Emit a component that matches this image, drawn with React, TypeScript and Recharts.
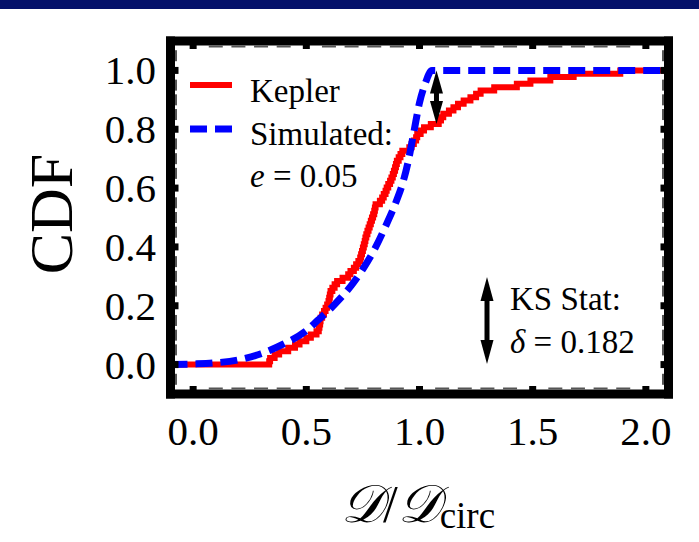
import React from "react";
import { LineChart, Line, XAxis, YAxis, ReferenceLine } from "recharts";

// sorted D/Dcirc ratios of the Kepler sample (88 systems)
const keplerRatios = [
  0.336, 0.34, 0.36, 0.38, 0.42, 0.45, 0.47, 0.5, 0.52, 0.545,
  0.555, 0.558, 0.561, 0.563, 0.57, 0.578, 0.585, 0.592, 0.598, 0.601,
  0.604, 0.607, 0.615, 0.625, 0.636, 0.66, 0.685, 0.695, 0.71, 0.72,
  0.73, 0.738, 0.742, 0.746, 0.75, 0.754, 0.758, 0.761, 0.765, 0.77,
  0.775, 0.78, 0.785, 0.79, 0.795, 0.8, 0.803, 0.806, 0.825, 0.835,
  0.842, 0.85, 0.855, 0.862, 0.87, 0.876, 0.882, 0.887, 0.892, 0.896,
  0.9, 0.908, 0.916, 0.924, 0.955, 0.965, 0.975, 0.985, 0.99, 1.005,
  1.02, 1.05, 1.085, 1.095, 1.105, 1.13, 1.15, 1.17, 1.195, 1.225,
  1.25, 1.27, 1.33, 1.43, 1.49, 1.578, 1.681, 1.887,
];

// simulated population, e = 0.05
const simRatio = [-0.1, 0, 0.1, 0.2, 0.3, 0.4, 0.5, 0.55, 0.6, 0.65, 0.7, 0.75, 0.8, 0.85, 0.9, 0.925, 0.95, 0.975, 1.0, 1.025, 1.055, 2.1];
const simCdf = [0, 0.002, 0.006, 0.016, 0.037, 0.07, 0.115, 0.15, 0.185, 0.225, 0.27, 0.325, 0.39, 0.47, 0.56, 0.615, 0.69, 0.79, 0.89, 0.955, 1, 1];

const xMajorTicks = [0, 0.5, 1, 1.5, 2];
const xMinorTicks = [0.1, 0.2, 0.3, 0.4, 0.6, 0.7, 0.8, 0.9, 1.1, 1.2, 1.3, 1.4, 1.6, 1.7, 1.8, 1.9];
const yMajorTicks = [0, 0.2, 0.4, 0.6, 0.8, 1];
const yMinorTicks = [-0.05, 0.05, 0.1, 0.15, 0.25, 0.3, 0.35, 0.45, 0.5, 0.55, 0.65, 0.7, 0.75, 0.85, 0.9, 0.95, 1.05];

const ksStat = 0.182;
const ksRatio = 1.075;

const FONT = "'Liberation Serif', 'Times New Roman', serif";
const n = keplerRatios.length;

const keplerCdf = [
  { x: -0.1, cdf: 0 },
  ...keplerRatios.map((v, i) => ({ x: v, cdf: (i + 1) / n })),
  { x: 2.1, cdf: 1 },
];
const simData = simRatio.map((x, i) => ({ x, cdf: simCdf[i] }));

const xTicks = [...xMajorTicks, ...xMinorTicks].sort((a, b) => a - b);
const yTicks = [...yMajorTicks, ...yMinorTicks].sort((a, b) => a - b);

const frameLine = { stroke: "#000", strokeWidth: 9, strokeLinecap: "square" as const };

// tick marks sit on the inner edge of the thick frame
function BottomTick({ x, y, payload }: any) {
  const major = xMajorTicks.includes(payload.value);
  return (
    <g>
      {major ? (
        <rect x={x - 3.5} y={y - 8} width={7} height={4} fill="#000" />
      ) : (
        <rect x={x - 7} y={y - 6.5} width={14} height={2} fill="#555" />
      )}
      {major && (
        <text x={x} y={y + 51} textAnchor="middle" fontSize={41} fontFamily={FONT} fill="#000">
          {payload.value.toFixed(1)}
        </text>
      )}
    </g>
  );
}

function TopTick({ x, y, payload }: any) {
  const major = xMajorTicks.includes(payload.value);
  return major ? (
    <rect x={x - 3.5} y={y + 4} width={7} height={4} fill="#000" />
  ) : (
    <rect x={x - 7} y={y + 4.5} width={14} height={2} fill="#555" />
  );
}

function LeftTick({ x, y, payload }: any) {
  const major = yMajorTicks.includes(payload.value);
  return (
    <g>
      {major ? (
        <rect x={x + 4} y={y - 3.5} width={4} height={7} fill="#000" />
      ) : (
        <rect x={x + 4.5} y={y - 5.5} width={2} height={11} fill="#555" />
      )}
      {major && (
        <text x={x - 14.5} y={y + 14} textAnchor="end" fontSize={41} fontFamily={FONT} fill="#000">
          {payload.value.toFixed(1)}
        </text>
      )}
    </g>
  );
}

function RightTick({ x, y, payload }: any) {
  const major = yMajorTicks.includes(payload.value);
  return major ? (
    <rect x={x - 8} y={y - 3.5} width={4} height={7} fill="#000" />
  ) : (
    <rect x={x - 6.5} y={y - 5.5} width={2} height={11} fill="#555" />
  );
}

function DoubleArrow({ cx, top, bottom, headH, headW }: { cx: number; top: number; bottom: number; headH: number; headW: number }) {
  return (
    <g fill="#000">
      <rect x={cx - 2.5} y={top + headH - 2} width={5} height={Math.max(0, bottom - top - 2 * headH + 4)} />
      <polygon points={`${cx},${top} ${cx - headW / 2},${top + headH} ${cx + headW / 2},${top + headH}`} />
      <polygon points={`${cx},${bottom} ${cx - headW / 2},${bottom - headH} ${cx + headW / 2},${bottom - headH}`} />
    </g>
  );
}

function KsArrow(props: any) {
  const { x1, y1, y2 } = props;
  return <DoubleArrow cx={x1} top={Math.min(y1, y2)} bottom={Math.max(y1, y2)} headH={23} headW={13} />;
}

export default function App() {
  return (
    <div style={{ position: "absolute", left: 0, top: 0, width: 699, height: 542, background: "#fff" }}>
      <div style={{ position: "absolute", left: 0, top: 0, width: 699, height: 9, background: "#04116a" }} />
      <LineChart
        width={699}
        height={542}
        margin={{ top: 31, right: 20.5, bottom: 88, left: 90.5 }}
        style={{ position: "absolute", left: 0, top: 0 }}
      >
        <XAxis
          xAxisId="bottom"
          dataKey="x"
          type="number"
          domain={[-0.1, 2.1]}
          ticks={xTicks}
          interval={0}
          height={60}
          tickSize={0}
          tickMargin={0}
          tickLine={false}
          axisLine={frameLine}
          tick={<BottomTick />}
        />
        <XAxis
          xAxisId="top"
          orientation="top"
          dataKey="x"
          type="number"
          domain={[-0.1, 2.1]}
          ticks={xTicks}
          interval={0}
          height={10}
          tickSize={0}
          tickMargin={0}
          tickLine={false}
          axisLine={frameLine}
          tick={<TopTick />}
        />
        <YAxis
          yAxisId="left"
          type="number"
          domain={[-0.1, 1.1]}
          ticks={yTicks}
          interval={0}
          width={80}
          tickSize={0}
          tickMargin={0}
          tickLine={false}
          axisLine={frameLine}
          tick={<LeftTick />}
        />
        <YAxis
          yAxisId="right"
          orientation="right"
          type="number"
          domain={[-0.1, 1.1]}
          ticks={yTicks}
          interval={0}
          width={10}
          tickSize={0}
          tickMargin={0}
          tickLine={false}
          axisLine={frameLine}
          tick={<RightTick />}
        />
        <Line
          xAxisId="bottom"
          yAxisId="left"
          data={keplerCdf}
          dataKey="cdf"
          type="stepAfter"
          stroke="#ff0000"
          strokeWidth={6}
          dot={false}
          isAnimationActive={false}
        />
        <Line
          xAxisId="top"
          yAxisId="right"
          data={simData}
          dataKey="cdf"
          type="monotone"
          stroke="#0000ff"
          strokeWidth={7}
          strokeDasharray="17 8"
          dot={false}
          isAnimationActive={false}
        />
        <ReferenceLine
          xAxisId="bottom"
          yAxisId="left"
          segment={[
            { x: ksRatio, y: 1 - ksStat },
            { x: ksRatio, y: 1 },
          ]}
          shape={KsArrow}
        />
      </LineChart>
      <svg width={699} height={542} style={{ position: "absolute", left: 0, top: 0, pointerEvents: "none" }}>
        <text x={72} y={214} transform="rotate(-90 72 214)" textAnchor="middle" fontSize={62} fontFamily={FONT} fill="#000">
          CDF
        </text>
        <text x={418} y={522} textAnchor="middle" fontSize={53} fontFamily={FONT} fill="#000">
          <tspan fontStyle="italic">𝒟</tspan>
          <tspan>/</tspan>
          <tspan fontStyle="italic">𝒟</tspan>
          <tspan fontSize={37} dy={6} fontFamily={FONT} fontStyle="normal">
            circ
          </tspan>
        </text>

        <line x1={190} y1={85} x2={232} y2={85} stroke="#ff0000" strokeWidth={6} />
        <line x1={190} y1={129} x2={232} y2={129} stroke="#0000ff" strokeWidth={7} strokeDasharray="17 8" />
        <g fontSize={33} fontFamily={FONT} fill="#000">
          <text x={250} y={102}>Kepler</text>
          <text x={250} y={145}>Simulated:</text>
          <text x={250} y={187}>
            <tspan fontStyle="italic">e</tspan> = 0.05
          </text>
          <text x={510} y={310}>KS Stat:</text>
          <text x={510} y={353}>
            <tspan fontStyle="italic">δ</tspan> = {ksStat.toFixed(3)}
          </text>
        </g>
        <DoubleArrow cx={487} top={277} bottom={364} headH={24} headW={13} />
      </svg>
    </div>
  );
}
